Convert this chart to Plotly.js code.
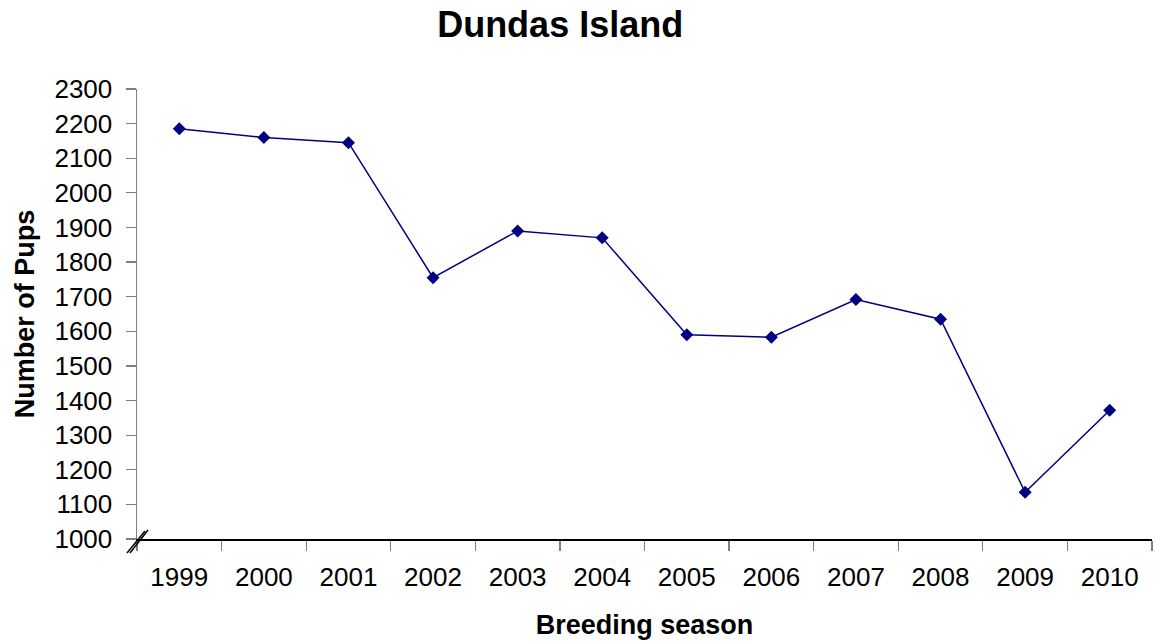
<!DOCTYPE html>
<html>
<head>
<meta charset="utf-8">
<script src="https://cdn.plot.ly/plotly-3.0.1.min.js"></script>
<style>html,body{margin:0;padding:0;background:#fff;}#chart{width:1155px;height:644px;}</style>
</head>
<body>
<div id="chart"></div>
<script>
const seasons = ['1999','2000','2001','2002','2003','2004','2005','2006','2007','2008','2009','2010'];
const pups = [2185, 2160, 2145, 1755, 1890, 1870, 1590, 1583, 1692, 1635, 1135, 1372];
const yTicks = [1000,1100,1200,1300,1400,1500,1600,1700,1800,1900,2000,2100,2200,2300];

const trace = {
  x: seasons, y: pups, type: 'scatter', mode: 'lines+markers',
  line: {color: '#000080', width: 1.5},
  marker: {symbol: 'diamond', size: 10, color: '#000080'},
  hoverinfo: 'x+y'
};

const layout = {
  width: 1155, height: 644,
  margin: {l: 137, r: 3, t: 89, b: 105},
  paper_bgcolor: '#fff', plot_bgcolor: '#fff',
  font: {family: 'Liberation Sans, Arial, sans-serif', color: '#000', size: 26},
  title: {text: '<b>Dundas Island</b>', font: {size: 36, family: 'Liberation Sans, Arial, sans-serif'}, x: 0.485, xanchor: 'center', y: 0.962, yanchor: 'middle'},
  showlegend: false,
  xaxis: {
    type: 'category', range: [-0.5, 11.5], tickson: 'boundaries',
    ticks: 'outside', ticklen: 10, tickcolor: '#808080', tickwidth: 1.2,
    showline: true, linecolor: '#000', linewidth: 1.5,
    showgrid: false, zeroline: false,
    ticklabelstandoff: 14,
    automargin: false,
    title: {text: '<b>Breeding season</b>', font: {size: 27}, standoff: 24}
  },
  yaxis: {
    range: [1000, 2300], tickvals: yTicks,
    ticks: 'outside', ticklen: 10, tickcolor: '#808080', tickwidth: 1.2,
    showline: true, linecolor: '#808080', linewidth: 1.5,
    showgrid: false, zeroline: false,
    automargin: false,
    ticklabelstandoff: 8,
    title: {text: '<b>Number of Pups</b>', font: {size: 27}, standoff: 12}
  },
  shapes: [
    {type: 'line', xref: 'paper', yref: 'paper', xsizemode: 'pixel', ysizemode: 'pixel', xanchor: 0, yanchor: 0,
     x0: -10, y0: -14, x1: 8, y1: 8, line: {color: '#000', width: 1.5}},
    {type: 'line', xref: 'paper', yref: 'paper', xsizemode: 'pixel', ysizemode: 'pixel', xanchor: 0, yanchor: 0,
     x0: -7, y0: -14, x1: 11, y1: 9, line: {color: '#000', width: 1.5}}
  ]
};

Plotly.newPlot('chart', [trace], layout, {displayModeBar: false, staticPlot: true});
</script>
</body>
</html>
